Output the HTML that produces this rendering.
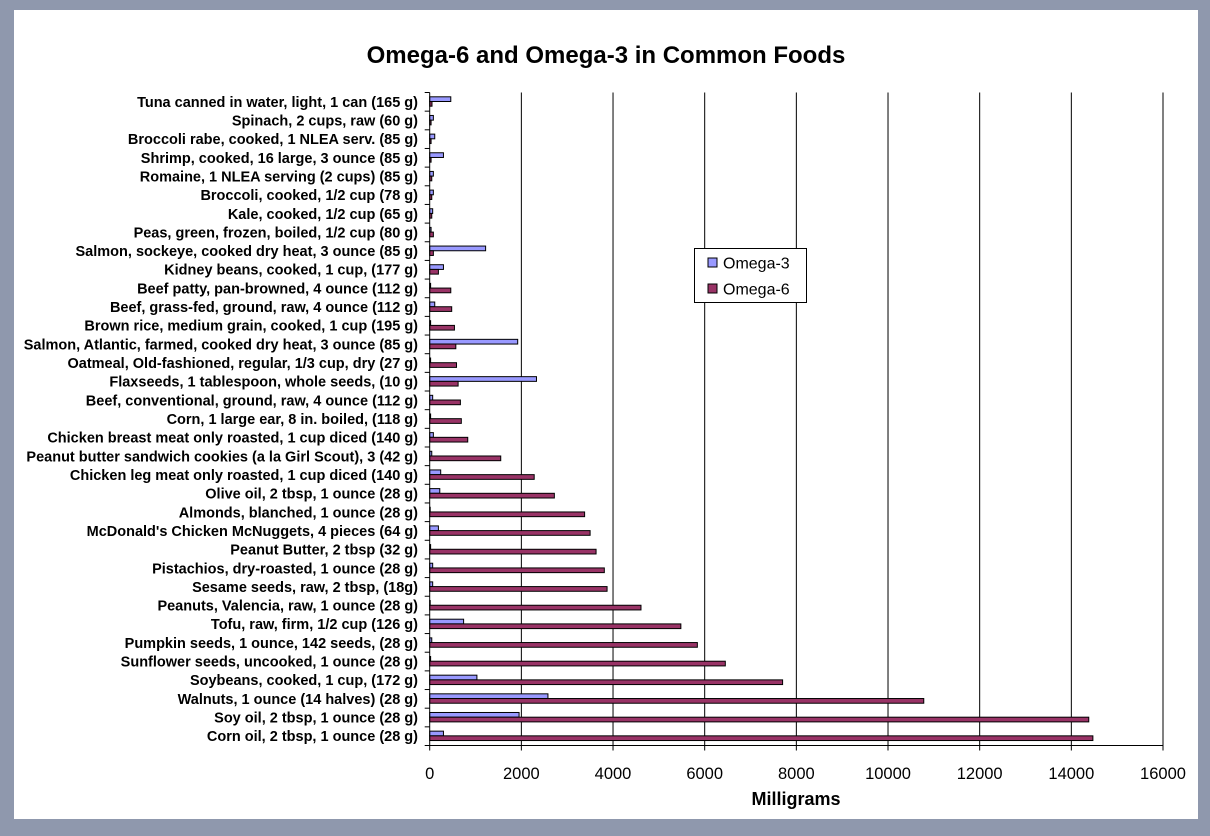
<!DOCTYPE html>
<html><head><meta charset="utf-8"><style>
html,body{margin:0;padding:0;}
body{width:1210px;height:836px;background:#8f98ad;position:relative;overflow:hidden;font-family:"Liberation Sans",Arial,sans-serif;}
#panel{position:absolute;left:14px;top:10px;width:1184px;height:809px;background:#fff;}
svg{position:absolute;left:0;top:0;}
</style></head><body>
<div id="panel"></div>
<svg id="chart" width="1210" height="836"></svg>
<script>
const categories=["Tuna canned in water, light, 1 can (165 g)","Spinach, 2 cups, raw (60 g)","Broccoli rabe, cooked, 1 NLEA serv. (85 g)","Shrimp, cooked, 16 large, 3 ounce (85 g)","Romaine, 1 NLEA serving (2 cups) (85 g)","Broccoli, cooked, 1/2 cup (78 g)","Kale, cooked, 1/2 cup (65 g)","Peas, green, frozen, boiled, 1/2 cup (80 g)","Salmon, sockeye, cooked dry heat, 3 ounce (85 g)","Kidney beans, cooked, 1 cup, (177 g)","Beef patty, pan-browned, 4 ounce (112 g)","Beef, grass-fed, ground, raw, 4 ounce (112 g)","Brown rice, medium grain, cooked, 1 cup (195 g)","Salmon, Atlantic, farmed, cooked dry heat, 3 ounce (85 g)","Oatmeal, Old-fashioned, regular, 1/3 cup, dry (27 g)","Flaxseeds, 1 tablespoon, whole seeds, (10 g)","Beef, conventional, ground, raw, 4 ounce (112 g)","Corn, 1 large ear, 8 in. boiled, (118 g)","Chicken breast meat only roasted, 1 cup diced (140 g)","Peanut butter sandwich cookies (a la Girl Scout), 3 (42 g)","Chicken leg meat only roasted, 1 cup diced (140 g)","Olive oil, 2 tbsp, 1 ounce (28 g)","Almonds, blanched, 1 ounce (28 g)","McDonald's Chicken McNuggets, 4 pieces (64 g)","Peanut Butter, 2 tbsp (32 g)","Pistachios, dry-roasted, 1 ounce (28 g)","Sesame seeds, raw, 2 tbsp, (18g)","Peanuts, Valencia, raw, 1 ounce (28 g)","Tofu, raw, firm, 1/2 cup (126 g)","Pumpkin seeds, 1 ounce, 142 seeds, (28 g)","Sunflower seeds, uncooked, 1 ounce (28 g)","Soybeans, cooked, 1 cup, (172 g)","Walnuts, 1 ounce (14 halves) (28 g)","Soy oil, 2 tbsp, 1 ounce (28 g)","Corn oil, 2 tbsp, 1 ounce (28 g)"];
const omega3=[460,80,110,300,80,80,65,30,1220,300,20,110,20,1920,20,2330,65,20,80,45,240,220,0,190,20,65,65,0,740,45,20,1030,2580,1950,300];
const omega6=[50,30,30,30,45,45,45,80,80,190,460,480,540,570,585,620,670,690,830,1550,2280,2720,3380,3500,3630,3810,3870,4610,5480,5840,6450,7700,10780,14380,14470];
const ticks=[0,2000,4000,6000,8000,10000,12000,14000,16000];
const NS="http://www.w3.org/2000/svg";
const svg=document.getElementById('chart');
const X0=429.7,X1=1163,TOP=92.5,BOT=745.5,MAX=16000;
const xs=v=>X0+(v/MAX)*(X1-X0);
const step=(BOT-TOP)/categories.length;
function mk(t,a,p){const e=document.createElementNS(NS,t);for(const k in a)e.setAttribute(k,a[k]);(p||svg).appendChild(e);return e;}
let t=mk('text',{x:606,y:63,'text-anchor':'middle','font-size':24,'font-weight':'bold',fill:'#000'});
t.textContent="Omega-6 and Omega-3 in Common Foods";


ticks.forEach(v=>{
 if(v>0){const g=mk('line',{x1:xs(v),x2:xs(v),y1:TOP,y2:BOT,stroke:'#000','stroke-width':1});
 
 }
 const tk=mk('line',{x1:xs(v),x2:xs(v),y1:BOT,y2:BOT+5,stroke:'#000'});
 
 
 const l=mk('text',{x:xs(v),y:779,'text-anchor':'middle','font-size':16.5,fill:'#000'});
 l.textContent=v;
 
 
});
const xt=mk('text',{x:796,y:805,'text-anchor':'middle','font-size':18,'font-weight':'bold',fill:'#000'});
xt.textContent="Milligrams";


categories.forEach((c,i)=>{
 const y0=TOP+i*step;
 const b3=mk('rect',{x:X0,y:y0+4.3,width:Math.max(xs(omega3[i])-X0,0.5),height:4.7,fill:'#9999ff',stroke:'#000','stroke-width':1});
 
 
 const b6=mk('rect',{x:X0,y:y0+9,width:Math.max(xs(omega6[i])-X0,0.5),height:4.7,fill:'#993366',stroke:'#000','stroke-width':1});
 
 
 const tk=mk('line',{x1:X0-5,x2:X0,y1:y0,y2:y0,stroke:'#000'});
 
 
 const l=mk('text',{x:418,y:y0+step/2+5,'text-anchor':'end','font-size':14.5,'font-weight':'bold',fill:'#000'});
 l.textContent=c;
 
 
});
const bt=mk('line',{x1:X0-5,x2:X0,y1:BOT,y2:BOT,stroke:'#000'});


const ax=mk('line',{x1:X0,x2:X0,y1:TOP,y2:BOT,stroke:'#000'});


const ax2=mk('line',{x1:X0,x2:X1,y1:BOT,y2:BOT,stroke:'#000'});


const lg=mk('g',{});


mk('rect',{x:694.5,y:248.5,width:112,height:54,fill:'#fff',stroke:'#000'},lg);
[['Omega-3','#9999ff',263],['Omega-6','#993366',289]].forEach(([n,col,y])=>{
 mk('rect',{x:708,y:y-5,width:9,height:9,fill:col,stroke:'#000'},lg);
 const tx=mk('text',{x:723,y:y+5.5,'font-size':16,fill:'#000'},lg);
 tx.textContent=n;
 
 
});
</script>
</body></html>
